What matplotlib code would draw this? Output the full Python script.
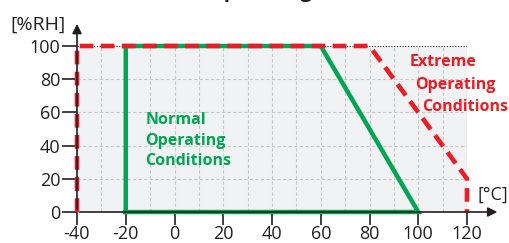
import matplotlib
matplotlib.use("Agg")
from matplotlib import pyplot as plt

plt.rcParams["axes.unicode_minus"] = False
plt.rcParams["font.family"] = ["Open Sans", "DejaVu Sans"]

# %% data
extreme_t = [-40, -40, 80, 120, 120]
extreme_rh = [0, 100, 100, 20, 0]
normal_t = [-20, -20, 60, 100, -20]
normal_rh = [0, 100, 100, 0, 0]
x_ticks = [-40, -20, 0, 20, 40, 60, 80, 100, 120]
y_ticks = [0, 20, 40, 60, 80, 100]

green = "#00a651"
red = "#ed1c24"
dark = "#231f20"
cond = dict(fontweight="bold", fontstretch="condensed", fontsize=11.5)

# %% figure
fig = plt.figure(figsize=(5.09, 2.43), dpi=100)
ax = fig.add_axes([77 / 509, 31 / 243, 390 / 509, 166 / 243])
ax.set_xlim(-40, 120)
ax.set_ylim(0, 100)
ax.set_facecolor("#f1f2f4")

for v in range(-30, 120, 10):
    ax.axvline(v, color="#c8c8c8", lw=0.8, ls=(0, (3, 2)), zorder=1)
for v in range(20, 100, 20):
    ax.axhline(v, color="#c8c8c8", lw=0.8, ls=(0, (3, 2)), zorder=1)
ax.axhline(100, color="#222222", lw=0.8, ls=(0, (1, 1.5)), zorder=1)
ax.axvline(120, color="#222222", lw=0.8, ls=(0, (1, 1.5)), zorder=1)

ax.plot(normal_t, normal_rh, color=green, lw=3.2, solid_joinstyle="miter", zorder=3, clip_on=False)
ax.plot(extreme_t, extreme_rh, color=red, lw=3.3, ls=(0, (3, 1.6)), zorder=4, clip_on=False)

for s in ax.spines.values():
    s.set_visible(False)

# axes with arrows
ax.annotate("", xy=(1.085, 0), xytext=(0, 0), xycoords="axes fraction",
            arrowprops=dict(arrowstyle="-|>", color=dark, lw=1.2, mutation_scale=14),
            annotation_clip=False, zorder=5)
ax.annotate("", xy=(0, 1.15), xytext=(0, 0), xycoords="axes fraction",
            arrowprops=dict(arrowstyle="-|>", color=dark, lw=1.2, mutation_scale=14),
            annotation_clip=False, zorder=5)

ax.set_xticks(x_ticks)
ax.set_yticks(y_ticks)
ax.tick_params(axis="x", length=9, width=1.2, color=dark, labelsize=13,
               labelcolor=dark, pad=0)
ax.tick_params(axis="y", length=11, width=1.2, color=dark, labelsize=13,
               labelcolor=dark, pad=1)

ax.text(-0.03, 1.125, "[%RH]", transform=ax.transAxes, ha="right", va="center",
        fontsize=14, color=dark)
fig.text(508 / 509, 1 - 195 / 243, "[°C]", ha="right", va="center",
         fontsize=13, color=dark)

ax.text(-12, 60, "Normal\nOperating\nConditions", ha="left", va="top",
        color=green, linespacing=1.35, **cond)
ax.text(110.2, 90.4, "Extreme", ha="center", va="center", color=red, **cond)
ax.text(115.1, 76.5, "Operating", ha="center", va="center", color=red, **cond)
ax.text(119.2, 63.3, "Conditions", ha="center", va="center", color=red, **cond)

# title mostly cut off by the top edge
fig.text(207 / 509, 1 + 3 / 243, "Operating Conditions", ha="left", va="baseline",
         fontsize=15, fontweight="bold", color=dark)

fig.savefig("out.png", dpi=100)
